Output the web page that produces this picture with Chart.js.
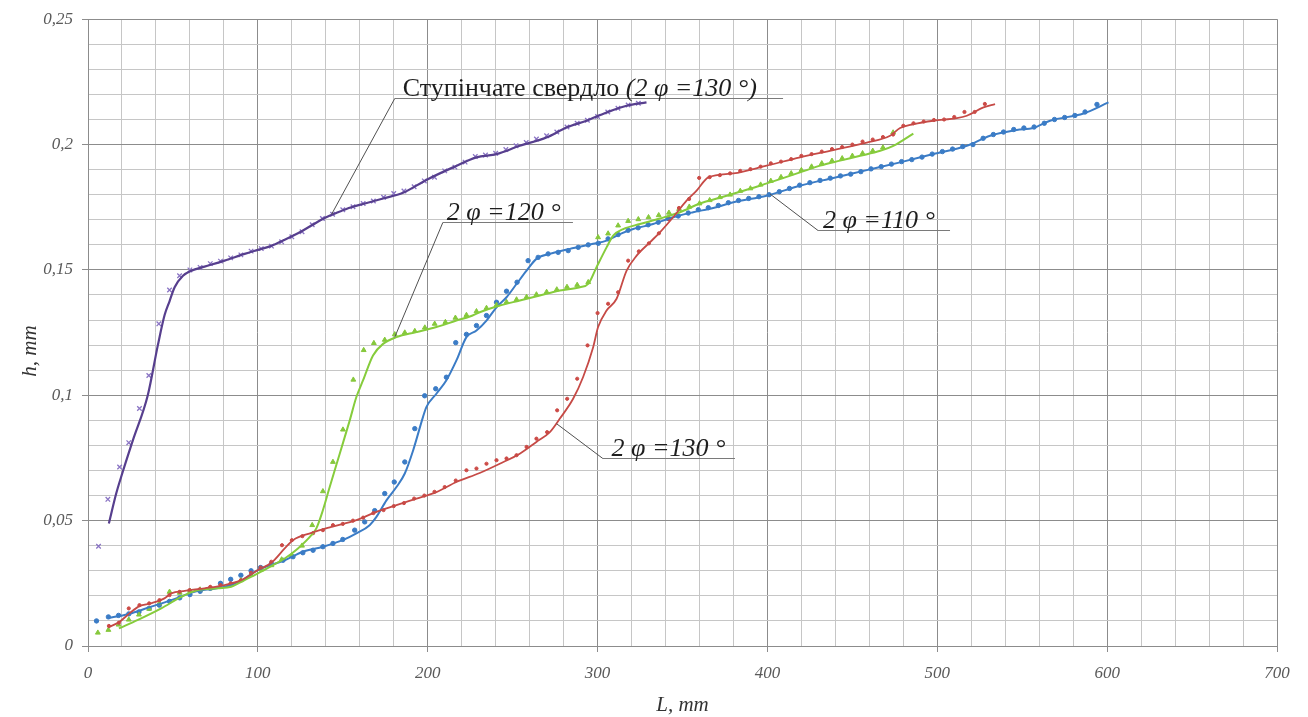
<!DOCTYPE html>
<html>
<head>
<meta charset="utf-8">
<script src="https://cdn.jsdelivr.net/npm/chart.js@4/dist/chart.umd.min.js"></script>
<style>
  html, body { margin: 0; padding: 0; background: #ffffff; }
  canvas { display: block; }
</style>
</head>
<body>
<canvas id="wear" width="1308" height="717"></canvas>
<script>
// Flank wear h (mm) versus drilled length L (mm)

// Step drill (2φ = 130°): measured points
const stepL = [6.2, 11.7, 18.6, 24, 30.3, 35.8, 41.7, 48, 53.9, 60, 66, 72, 78, 84, 90, 96, 102, 108, 114, 120,
  126, 132, 138, 144, 150, 156, 162, 168, 174, 180, 186, 192, 198, 204, 210, 216, 222, 228, 234, 240,
  246, 252, 258, 264, 270, 276, 282, 288, 294, 300, 306, 312, 318, 324];
const stepH = [0.0398, 0.0585, 0.0714, 0.0811, 0.0947, 0.1079, 0.1285, 0.1420, 0.1477, 0.1500, 0.1510, 0.1525, 0.1535, 0.1548, 0.1560, 0.1575, 0.1585, 0.1595, 0.1612, 0.1632,
  0.1652, 0.1680, 0.1705, 0.1722, 0.1740, 0.1752, 0.1765, 0.1775, 0.1790, 0.1805, 0.1815, 0.1832, 0.1855, 0.1870, 0.1895, 0.1910, 0.1930, 0.1952, 0.1958, 0.1965,
  0.1980, 0.1995, 0.2008, 0.2022, 0.2035, 0.2050, 0.2070, 0.2085, 0.2097, 0.2112, 0.2130, 0.2145, 0.2158, 0.2165];
// Step drill: smoothed curve
const stepFitL = [12.3, 16.6, 19.5, 26.4, 35.2, 41.1, 45.1, 48, 51, 55.9, 60.8, 68.6, 80.4, 92.2, 100, 107.9, 115.8, 123.6, 131.5, 139.3,
  147.2, 155, 163, 173.7, 185.5, 199.2, 214.9, 228.7, 240.5, 254.2, 269.9, 281.7, 293.5, 305.3, 317.1, 328.8];
const stepFitH = [0.0489, 0.0608, 0.0674, 0.0820, 0.1000, 0.1199, 0.1320, 0.1375, 0.1431, 0.1477, 0.1497, 0.1513, 0.1537, 0.1564, 0.1580, 0.1596, 0.1620, 0.1646, 0.1677, 0.1707,
  0.1730, 0.1750, 0.1765, 0.1785, 0.1808, 0.1859, 0.1909, 0.1949, 0.1962, 0.1995, 0.2028, 0.2068, 0.2095, 0.2128, 0.2155, 0.2168];

// Twist drill 2φ = 110°: measured points
const d110L = [5, 12, 18, 24, 30, 36, 42, 48, 54, 60, 66, 72, 78, 84, 90, 96, 101.6, 108, 114.8, 120.7,
  126.5, 132.5, 138.3, 144.2, 150, 157, 162.9, 168.8, 174.7, 180.3, 186.5, 192.4, 198.2, 204.7, 211, 216.5, 222.8, 228.7, 234.6, 240.5,
  246.4, 252.6, 259.1, 265, 270.9, 276.8, 282.7, 288.6, 294.5, 300.4, 306.2, 312.1, 318, 323.9, 329.8, 335.7, 341.6, 347.5, 353.4, 359.3,
  365.2, 371.1, 377, 383, 389, 395, 401, 407, 413, 419, 425, 431, 437, 443, 449, 455, 461, 467, 473, 479,
  485, 491, 497, 503, 509, 515, 521, 527, 533, 539, 545, 551, 557, 563, 569, 575, 581, 587, 594];
const d110H = [0.0100, 0.0116, 0.0122, 0.0128, 0.0136, 0.0150, 0.0163, 0.0178, 0.0192, 0.0205, 0.0218, 0.0230, 0.0250, 0.0266, 0.0282, 0.0300, 0.0313, 0.0328, 0.0342, 0.0356,
  0.0372, 0.0382, 0.0396, 0.0409, 0.0425, 0.0462, 0.0495, 0.0540, 0.0608, 0.0654, 0.0734, 0.0867, 0.0998, 0.1026, 0.1072, 0.1210, 0.1243, 0.1278, 0.1318, 0.1371,
  0.1415, 0.1451, 0.1537, 0.1550, 0.1564, 0.1570, 0.1577, 0.1590, 0.1600, 0.1606, 0.1624, 0.1641, 0.1658, 0.1668, 0.1680, 0.1690, 0.1705, 0.1715, 0.1727, 0.1740,
  0.1748, 0.1757, 0.1768, 0.1777, 0.1785, 0.1792, 0.1800, 0.1812, 0.1825, 0.1838, 0.1848, 0.1857, 0.1866, 0.1875, 0.1882, 0.1892, 0.1903, 0.1912, 0.1922, 0.1932,
  0.1940, 0.1950, 0.1962, 0.1972, 0.1982, 0.1992, 0.2000, 0.2025, 0.2040, 0.2050, 0.2060, 0.2066, 0.2070, 0.2085, 0.2100, 0.2108, 0.2116, 0.2130, 0.2160];
const d110FitL = [12, 23.5, 37.2, 49, 62.7, 80.4, 90.2, 100, 115.8, 126.5, 138.3, 150, 158, 165.8, 169.8, 175.7, 181.6, 186.5, 191.4, 197.2,
  199.2, 205.1, 211, 216.9, 222.8, 228.7, 234.6, 240.5, 246.4, 252.3, 258.2, 264, 271.9, 283.7, 297.4, 305.3, 313.1, 321, 332.7, 344.5,
  356.3, 368.1, 380, 399.5, 419.2, 438.8, 458.5, 478.1, 497.7, 517.4, 531.1, 546.8, 556.6, 566.4, 586.1, 600.8];
const d110FitH = [0.0112, 0.0127, 0.0157, 0.0183, 0.0216, 0.0236, 0.0260, 0.0303, 0.0342, 0.0376, 0.0396, 0.0422, 0.0449, 0.0482, 0.0515, 0.0581, 0.0634, 0.0688, 0.0780, 0.0913,
  0.0953, 0.1006, 0.1060, 0.1139, 0.1232, 0.1258, 0.1298, 0.1351, 0.1391, 0.1444, 0.1497, 0.1544, 0.1564, 0.1584, 0.1604, 0.1617, 0.1643, 0.1663, 0.1683, 0.1710,
  0.1730, 0.1747, 0.1770, 0.1796, 0.1836, 0.1867, 0.1898, 0.1929, 0.1962, 0.1995, 0.2035, 0.2058, 0.2066, 0.2095, 0.2124, 0.2168];

// Twist drill 2φ = 120°: measured points
const d120L = [5.8, 12, 18, 24, 30, 36, 42, 48, 54, 60, 66, 72, 78, 84, 90, 96, 102, 108, 114, 120,
  126, 132, 138.3, 144.2, 150.1, 156.2, 162.3, 168.3, 174.7, 180.6, 186.5, 192.4, 198.3, 204.1, 210.4, 216.3, 222.8, 228.7, 234.6, 240.5,
  246.4, 252.3, 258.2, 264, 270, 276, 282, 288, 294.5, 300.3, 306.2, 312.1, 318, 324, 330, 336, 342, 348, 354, 360,
  366, 372, 378, 384, 390, 396, 402, 408, 414, 420, 426, 432, 438, 444, 450, 456, 462, 468, 474];
const d120H = [0.0053, 0.0064, 0.0085, 0.0105, 0.0125, 0.0148, 0.0170, 0.0216, 0.0212, 0.0220, 0.0225, 0.0230, 0.0236, 0.0244, 0.0262, 0.0285, 0.0305, 0.0322, 0.0345, 0.0362,
  0.0400, 0.0482, 0.0617, 0.0734, 0.0863, 0.1062, 0.1180, 0.1208, 0.1221, 0.1243, 0.1250, 0.1256, 0.1270, 0.1285, 0.1292, 0.1309, 0.1320, 0.1335, 0.1348, 0.1360,
  0.1372, 0.1382, 0.1392, 0.1402, 0.1412, 0.1422, 0.1432, 0.1440, 0.1451, 0.1630, 0.1645, 0.1677, 0.1695, 0.1702, 0.1710, 0.1718, 0.1728, 0.1743, 0.1752, 0.1765,
  0.1778, 0.1790, 0.1800, 0.1815, 0.1825, 0.1840, 0.1855, 0.1870, 0.1885, 0.1898, 0.1912, 0.1925, 0.1935, 0.1945, 0.1955, 0.1965, 0.1975, 0.1988, 0.2048];
const d120FitL = [18.2, 29.4, 43.1, 54.9, 64.7, 76.5, 84.3, 92.2, 100, 107.9, 115.8, 123.6, 131.5, 134.5, 137.5, 142.3, 148.2, 154.1, 158, 161.9,
  167.8, 173.7, 181.6, 193.4, 205.1, 216.9, 224.8, 230.6, 242.4, 254.2, 266, 277.8, 289.6, 294.5, 299.4, 305.3, 309.2, 315.1, 324.9, 336.7,
  348.5, 360.2, 372, 383.8, 395.6, 407.4, 419.2, 431, 442.8, 454.6, 466.4, 474.1, 485.9];
const d120FitH = [0.0070, 0.0104, 0.0150, 0.0196, 0.0223, 0.0230, 0.0236, 0.0263, 0.0290, 0.0319, 0.0349, 0.0389, 0.0442, 0.0470, 0.0525, 0.0634, 0.0767, 0.0900, 0.0993, 0.1059,
  0.1159, 0.1205, 0.1232, 0.1252, 0.1272, 0.1298, 0.1314, 0.1331, 0.1358, 0.1378, 0.1398, 0.1418, 0.1431, 0.1444, 0.1511, 0.1590, 0.1637, 0.1663, 0.1683, 0.1705,
  0.1730, 0.1765, 0.1788, 0.1812, 0.1836, 0.1862, 0.1889, 0.1916, 0.1936, 0.1955, 0.1975, 0.1995, 0.2044];

// Twist drill 2φ = 130°: measured points
const d130L = [12.3, 18.2, 24, 30.3, 36, 42.1, 48, 53.9, 59.8, 65.7, 72, 78, 84, 90, 96, 101.6, 107.9, 114.2, 120, 126.2,
  132.5, 138.3, 144.2, 150, 156, 162, 168, 174, 180, 186, 192, 198, 204, 210, 216.5, 222.8, 228.7, 234.6, 240.5, 246.4,
  252.3, 258.2, 264, 270.3, 276.2, 282.1, 288, 294.1, 300, 306.2, 312.1, 318, 324.3, 330.2, 336.1, 342, 347.9, 353.9, 359.8, 366,
  372, 378, 384, 390, 396, 402, 408, 414, 420, 426, 432, 438, 444, 450, 456, 462, 468, 474, 480, 486,
  492, 498, 504, 510, 516, 522, 528];
const d130H = [0.0080, 0.0093, 0.0150, 0.0163, 0.0170, 0.0183, 0.0203, 0.0216, 0.0223, 0.0226, 0.0236, 0.0243, 0.0250, 0.0262, 0.0292, 0.0313, 0.0336, 0.0402, 0.0422, 0.0438,
  0.0450, 0.0462, 0.0482, 0.0487, 0.0500, 0.0512, 0.0530, 0.0542, 0.0558, 0.0570, 0.0588, 0.0600, 0.0615, 0.0634, 0.0660, 0.0701, 0.0708, 0.0727, 0.0741, 0.0748,
  0.0761, 0.0794, 0.0827, 0.0853, 0.0940, 0.0986, 0.1066, 0.1199, 0.1328, 0.1365, 0.1411, 0.1537, 0.1574, 0.1606, 0.1646, 0.1703, 0.1747, 0.1783, 0.1867, 0.1870,
  0.1878, 0.1885, 0.1895, 0.1902, 0.1912, 0.1925, 0.1932, 0.1942, 0.1955, 0.1962, 0.1972, 0.1982, 0.1990, 0.2000, 0.2012, 0.2020, 0.2030, 0.2040, 0.2075, 0.2085,
  0.2092, 0.2098, 0.2100, 0.2110, 0.2130, 0.2130, 0.2162];
const d130FitL = [12, 18.6, 24.4, 30.3, 37, 45, 49, 57, 68.6, 80.4, 90.2, 100, 108, 115.8, 120.7, 131.5, 143.3, 158, 169.8, 181.6,
  193.4, 205.1, 216.9, 230.6, 242.4, 254.2, 264, 271.9, 277.8, 285.6, 291.5, 297.4, 300.3, 305.3, 311.2, 317.1, 323, 330.8, 336.7, 344.5,
  352.4, 358.3, 365.2, 380, 399.5, 419.2, 438.8, 458.5, 472.2, 478.1, 485.9, 497.7, 511.5, 517.4, 527.2, 534];
const d130FitH = [0.0074, 0.0097, 0.0130, 0.0159, 0.0170, 0.0190, 0.0210, 0.0220, 0.0230, 0.0243, 0.0263, 0.0303, 0.0332, 0.0389, 0.0422, 0.0451, 0.0475, 0.0502, 0.0535, 0.0562,
  0.0588, 0.0614, 0.0654, 0.0690, 0.0727, 0.0767, 0.0814, 0.0853, 0.0907, 0.0986, 0.1073, 0.1192, 0.1272, 0.1338, 0.1385, 0.1497, 0.1557, 0.1610, 0.1650, 0.1710,
  0.1776, 0.1816, 0.1869, 0.1885, 0.1916, 0.1949, 0.1978, 0.2008, 0.2035, 0.2066, 0.2081, 0.2095, 0.2105, 0.2115, 0.2148, 0.2161];

// Axis ranges and label texts
const xRange = [0, 700];
const yRange = [0, 0.25];
const xTitle = 'L, mm';
const yTitle = 'h, mm';

const SERIF = '"Liberation Serif", "DejaVu Serif", serif';

function pairs(xs, ys) {
  const n = Math.min(xs.length, ys.length);
  const out = [];
  for (let i = 0; i < n; i++) out.push({ x: xs[i], y: ys[i] });
  return out;
}

function fitSet(xs, ys, color, width) {
  return {
    data: pairs(xs, ys), showLine: true, borderColor: color, borderWidth: width,
    pointRadius: 0, cubicInterpolationMode: 'monotone', fill: false
  };
}
function pointSet(xs, ys, color, style, radius, border) {
  return {
    data: pairs(xs, ys), showLine: false, pointStyle: style, pointRadius: radius,
    pointBackgroundColor: color, pointBorderColor: color, pointBorderWidth: border
  };
}

// Callout labels: underline from (x0,y) to (x1,y) in data units, leader to (tx,ty)
const callouts = [
  { parts: [['Ступінчате свердло ', 'normal'], ['(2 φ =130 °)', 'italic']], x0: 180.6, x1: 409.2, y: 0.2186, tx: 143.5, ty: 0.1723, textX: 185.3 },
  { parts: [['2 φ =120 °', 'italic']], x0: 208.9, x1: 285.5, y: 0.1690, tx: 180.6, ty: 0.1232, textX: 211.2 },
  { parts: [['2 φ =110 °', 'italic']], x0: 429.8, x1: 507.5, y: 0.1660, tx: 401.5, ty: 0.1803, textX: 432.7 },
  { parts: [['2 φ =130 °', 'italic']], x0: 303.1, x1: 380.9, y: 0.0751, tx: 275.8, ty: 0.0887, textX: 308.2 }
];

const calloutPlugin = {
  id: 'callouts',
  afterDatasetsDraw(chart) {
    const { ctx, scales: { x, y } } = chart;
    ctx.save();
    callouts.forEach(c => {
      const ux0 = x.getPixelForValue(c.x0), ux1 = x.getPixelForValue(c.x1);
      const uy = Math.round(y.getPixelForValue(c.y)) + 0.5;
      ctx.strokeStyle = '#7a7a7a';
      ctx.lineWidth = 1;
      ctx.beginPath();
      ctx.moveTo(ux0, uy); ctx.lineTo(ux1, uy);
      ctx.stroke();
      ctx.strokeStyle = '#505050';
      ctx.beginPath();
      ctx.moveTo(ux0, uy);
      ctx.lineTo(x.getPixelForValue(c.tx), y.getPixelForValue(c.ty));
      ctx.stroke();
      let px = x.getPixelForValue(c.textX);
      ctx.fillStyle = '#1e1e1e';
      ctx.textBaseline = 'alphabetic';
      ctx.textAlign = 'left';
      c.parts.forEach(([txt, style]) => {
        ctx.font = style + ' 26px ' + SERIF;
        ctx.fillText(txt, px, uy - 3);
        px += ctx.measureText(txt).width;
      });
    });
    ctx.restore();
  },
  afterDraw(chart) {
    const { ctx, chartArea } = chart;
    ctx.save();
    ctx.fillStyle = '#333333';
    ctx.font = 'italic 21px ' + SERIF;
    ctx.textAlign = 'center';
    ctx.textBaseline = 'middle';
    ctx.fillText(xTitle, (chartArea.left + chartArea.right) / 2, 705);
    ctx.translate(30, 351);
    ctx.rotate(-Math.PI / 2);
    ctx.fillText(yTitle, 0, 0);
    ctx.restore();
  }
};

const MAJOR = '#8c8c8c', MINOR = '#c6c6c6';
const tickFont = { family: SERIF, size: 17, style: 'italic' };

new Chart(document.getElementById('wear'), {
  type: 'scatter',
  data: {
    datasets: [
      fitSet(stepFitL, stepFitH, '#573f8e', 2.2),
      fitSet(d130FitL, d130FitH, '#c64a46', 1.8),
      fitSet(d120FitL, d120FitH, '#86cc3c', 2),
      fitSet(d110FitL, d110FitH, '#3b7cc6', 2),
      pointSet(stepL, stepH, '#8a74c4', 'crossRot', 3.2, 1.3),
      pointSet(d130L, d130H, '#cc4a46', 'circle', 1.6, 1),
      pointSet(d120L, d120H, '#86c83c', 'triangle', 2.8, 1),
      pointSet(d110L, d110H, '#3b7cc6', 'circle', 2.2, 1)
    ]
  },
  options: {
    responsive: false,
    animation: false,
    devicePixelRatio: 1,
    layout: { padding: { top: 18, right: 31, left: 0, bottom: 0 } },
    plugins: { legend: { display: false }, tooltip: { enabled: false } },
    scales: {
      x: {
        type: 'linear', min: xRange[0], max: xRange[1],
        afterFit(s) { s.height = 71; },
        ticks: {
          stepSize: 20, autoSkip: false, maxRotation: 0, padding: 11,
          color: '#5a5a5a', font: tickFont,
          callback: v => (Math.round(v) % 100 === 0 ? String(Math.round(v)) : '')
        },
        grid: {
          color: c => (c.tick && Math.round(c.tick.value) % 100 === 0 ? MAJOR : MINOR),
          tickColor: c => (c.tick && Math.round(c.tick.value) % 100 === 0 ? MAJOR : 'rgba(0,0,0,0)'),
          lineWidth: 1, tickLength: 6
        },
        border: { color: MAJOR, width: 1 }
      },
      y: {
        min: yRange[0], max: yRange[1],
        afterFit(s) { s.width = 88; },
        ticks: {
          stepSize: 0.01, autoSkip: false, padding: 9,
          color: '#5a5a5a', font: tickFont,
          callback: v => {
            const k = Math.round(v * 100);
            if (k % 5 !== 0) return '';
            return k === 0 ? '0' : String(k / 100).replace('.', ',');
          }
        },
        grid: {
          color: c => (c.tick && Math.round(c.tick.value * 100) % 5 === 0 ? MAJOR : MINOR),
          tickColor: c => (c.tick && Math.round(c.tick.value * 100) % 5 === 0 ? MAJOR : 'rgba(0,0,0,0)'),
          lineWidth: 1, tickLength: 6
        },
        border: { color: MAJOR, width: 1 }
      }
    }
  },
  plugins: [calloutPlugin]
});
</script>
</body>
</html>
